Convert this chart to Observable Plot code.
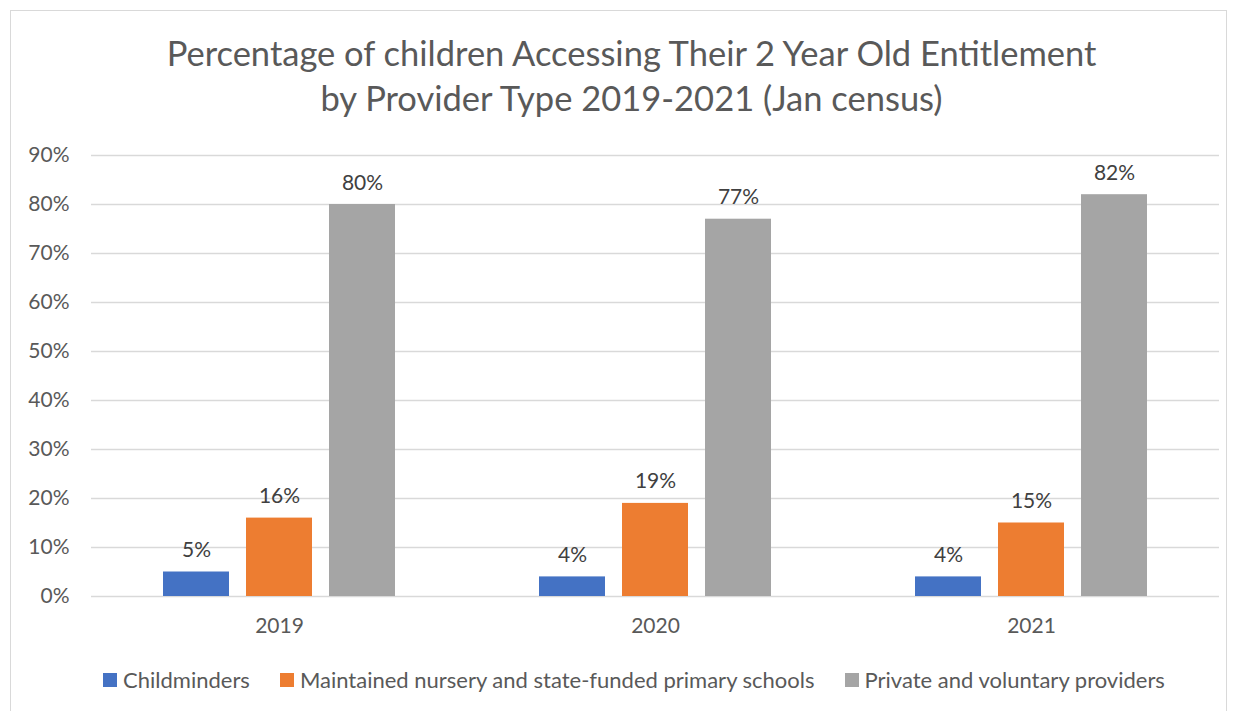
<!DOCTYPE html>
<html>
<head>
<meta charset="utf-8">
<script src="https://cdn.jsdelivr.net/npm/d3@7"></script>
<script src="https://cdn.jsdelivr.net/npm/@observablehq/plot@0.6"></script>
<style>
  html, body { margin: 0; padding: 0; background: #fff; }
  #frame { position: relative; width: 1237px; height: 711px; overflow: hidden; font-family: Lato, "Open Sans", sans-serif; color: #595959; }
  #border { position: absolute; left: 10px; top: 10px; width: 1217px; height: 720px; border: 1.5px solid #d9d9d9; box-sizing: border-box; }
  #title { position: absolute; left: 26px; top: 30px; width: 1211px; text-align: center; font-size: 34.5px; line-height: 45px; color: #595959; }
  #chart { position: absolute; left: 0; top: 130px; }
  #legend { position: absolute; left: 34px; top: 666px; width: 1200px; display: flex; justify-content: center; gap: 30px; font-size: 22px; }
  .item { display: flex; align-items: center; gap: 6px; }
  .sw { width: 14px; height: 14px; display: inline-block; }
</style>
</head>
<body>
<div id="frame">
  <div id="border"></div>
  <div id="title">Percentage of children Accessing Their 2 Year Old Entitlement<br>by Provider Type 2019-2021 (Jan census)</div>
  <div id="chart"></div>
  <div id="legend"></div>
</div>
<script>
const years = ["2019", "2020", "2021"];
const series = ["Childminders", "Maintained nursery and state-funded primary schools", "Private and voluntary providers"];
const colors = ["#4472C4", "#ED7D31", "#A5A5A5"];
const childminders = [0.05, 0.04, 0.04];
const maintained = [0.16, 0.19, 0.15];
const privateVoluntary = [0.80, 0.77, 0.82];
const yTicks = [0, 0.1, 0.2, 0.3, 0.4, 0.5, 0.6, 0.7, 0.8, 0.9];

const valuesBySeries = [childminders, maintained, privateVoluntary];
const data = [];
years.forEach((yr, i) => {
  series.forEach((s, j) => {
    data.push({year: yr, series: s, value: valuesBySeries[j][i]});
  });
});

const chart = Plot.plot({
  width: 1237,
  height: 520,
  marginLeft: 90,
  marginRight: 17,
  marginTop: 25,
  marginBottom: 54,
  style: {fontFamily: "Lato, 'Open Sans', sans-serif", fontSize: "21px", color: "#595959", background: "transparent"},
  fx: {domain: years, padding: 0, label: null},
  x: {domain: series, paddingInner: 0.21, paddingOuter: 0.86, axis: null},
  y: {domain: [0, 0.9], ticks: yTicks, tickFormat: d3.format(".0%"), label: null},
  color: {domain: series, range: colors},
  marks: [
    Plot.gridY(yTicks, {stroke: "#d9d9d9", strokeOpacity: 1, strokeWidth: 1.5}),
    Plot.axisY(yTicks, {tickSize: 0, tickPadding: 22, tickFormat: d3.format(".0%"), label: null, fontSize: 21}),
    Plot.axisFx({anchor: "bottom", tickSize: 0, tickPadding: 22, label: null, fontSize: 21}),
    Plot.barY(data, {fx: "year", x: "series", y: "value", fill: "series"}),
    Plot.text(data, {fx: "year", x: "series", y: "value", text: d => d3.format(".0%")(d.value), lineAnchor: "bottom", dy: -15, fill: "#404040", fontSize: 21})
  ]
});
document.getElementById("chart").appendChild(chart);

const legend = document.getElementById("legend");
series.forEach((s, j) => {
  const it = document.createElement("div");
  it.className = "item";
  const sw = document.createElement("span");
  sw.className = "sw";
  sw.style.background = colors[j];
  const tx = document.createElement("span");
  tx.textContent = s;
  it.appendChild(sw);
  it.appendChild(tx);
  legend.appendChild(it);
});
</script>
</body>
</html>
